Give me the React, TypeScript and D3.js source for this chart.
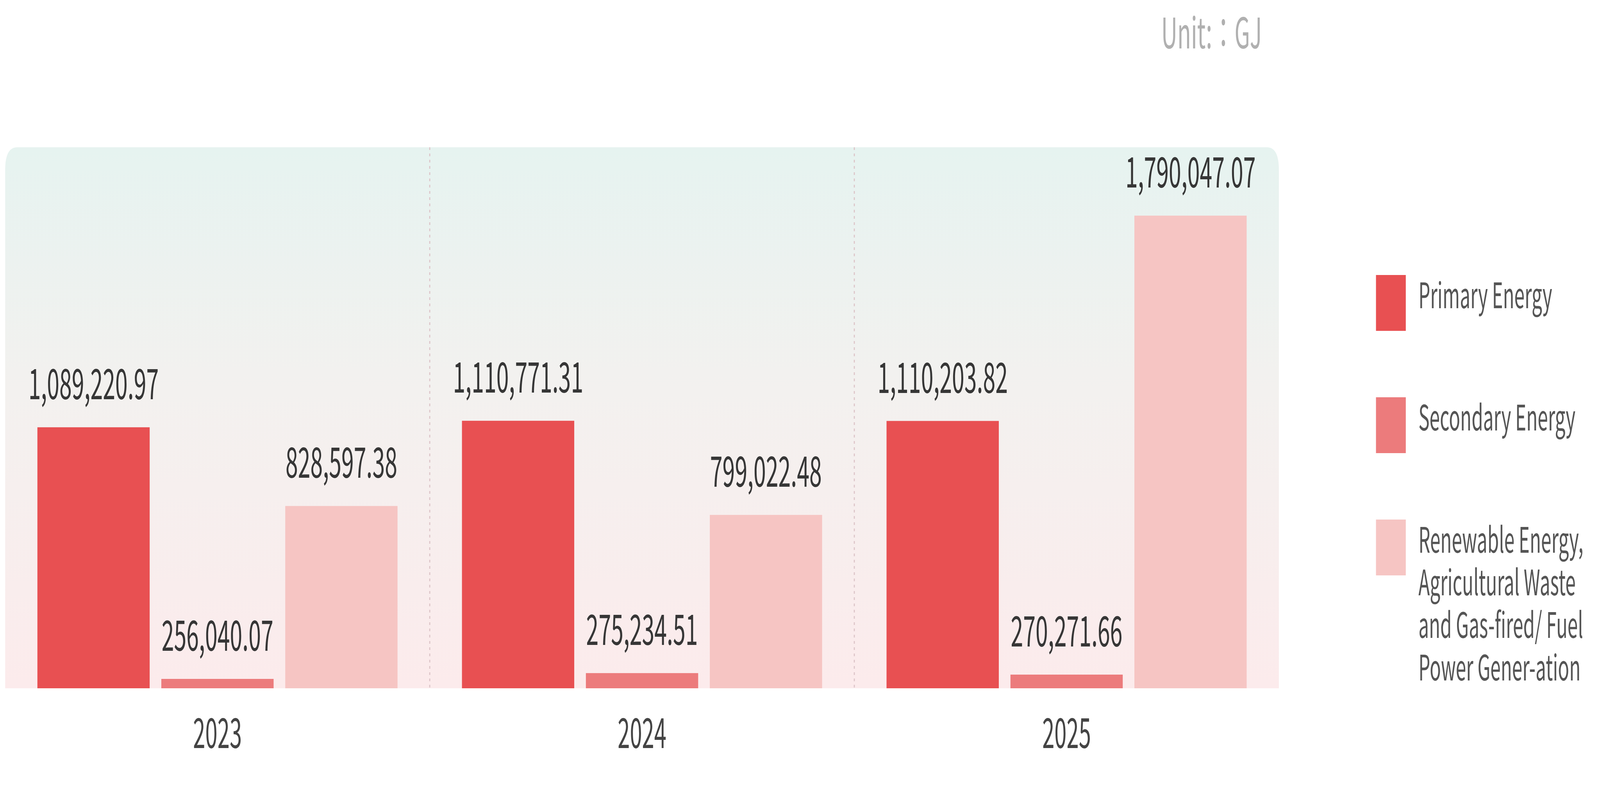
import React, { useEffect, useRef } from 'react'
import * as d3 from 'd3'

// chart values
const years = ['2023', '2024', '2025']
const seriesKeys = ['primary', 'secondary', 'renewable']
const primaryEnergy = [1089220.97, 1110771.31, 1110203.82]
const secondaryEnergy = [256040.07, 275234.51, 270271.66]
const renewableEnergy = [828597.38, 799022.48, 1790047.07]
const legendLabels = [
  ['Primary Energy'],
  ['Secondary Energy'],
  ['Renewable Energy,', 'Agricultural Waste', 'and Gas-fired/ Fuel', 'Power Gener-ation'],
]
const unitLabel = 'Unit:：GJ'
// the value axis in the original does not start at zero
const yFloor = 225000

const seriesColors = ['#e85052', '#ec7b7c', '#f6c5c3']
const FONT = '"Noto Sans CJK KR", "Noto Sans", sans-serif'

const W = 7728
const H = 2048

const App: React.FC = () => {
  const svgRef = useRef<SVGSVGElement>(null)

  useEffect(() => {
    if (!svgRef.current) return
    const svg = d3.select(svgRef.current)
    svg.selectAll('*').remove()

    // drawn in a 7728x2048 frame, stretched to whatever window we get
    svg.attr('viewBox', `0 0 ${W} ${H}`).attr('preserveAspectRatio', 'none')

    const plot = { left: 25, right: 6177, top: 377, bottom: 1762 }
    const values = [primaryEnergy, secondaryEnergy, renewableEnergy]
    const rows = years.map((year, i) => ({
      year,
      items: seriesKeys.map((key, s) => ({ key, value: values[s][i] })),
    }))

    const x0 = d3.scaleBand<string>()
      .domain(years)
      .range([plot.left, plot.right])
      .padding(0)

    const x1 = d3.scaleBand<string>()
      .domain(seriesKeys)
      .range([0, x0.bandwidth()])
      .paddingInner(0.094)
      .paddingOuter(0.26)

    const y = d3.scaleLinear()
      .domain([yFloor, d3.max(renewableEnergy) as number])
      .range([plot.bottom, 552])

    const color = d3.scaleOrdinal<string, string>().domain(seriesKeys).range(seriesColors)

    // background panel gradient
    const defs = svg.append('defs')
    const grad = defs.append('linearGradient')
      .attr('id', 'panelGrad')
      .attr('x1', 0).attr('y1', 0).attr('x2', 0).attr('y2', 1)
    grad.append('stop').attr('offset', '0%').attr('stop-color', '#e6f3f0')
    grad.append('stop').attr('offset', '45%').attr('stop-color', '#f3f1ef')
    grad.append('stop').attr('offset', '100%').attr('stop-color', '#fcebec')

    svg.append('rect').attr('width', W).attr('height', H).attr('fill', '#fff')

    const r = 58
    const { left, right, top, bottom } = plot
    svg.append('path')
      .attr('d', `M${left},${bottom} L${left},${top + r} Q${left},${top} ${left + r},${top} L${right - r},${top} Q${right},${top} ${right},${top + r} L${right},${bottom} Z`)
      .attr('fill', 'url(#panelGrad)')

    // dotted group dividers
    svg.append('g')
      .selectAll('line')
      .data(years.slice(1))
      .join('line')
      .attr('x1', d => x0(d) as number)
      .attr('x2', d => x0(d) as number)
      .attr('y1', top)
      .attr('y2', bottom)
      .attr('stroke', '#dcc3c7')
      .attr('stroke-width', 5)
      .attr('stroke-dasharray', '7 9')

    // bars
    const groups = svg.append('g')
      .selectAll('g')
      .data(rows)
      .join('g')
      .attr('transform', d => `translate(${x0(d.year)},0)`)

    groups.selectAll('rect')
      .data(d => d.items)
      .join('rect')
      .attr('x', d => x1(d.key) as number)
      .attr('y', d => y(d.value))
      .attr('width', x1.bandwidth())
      .attr('height', d => y(yFloor) - y(d.value))
      .attr('fill', d => color(d.key))

    groups.selectAll('text.val')
      .data(d => d.items)
      .join('text')
      .attr('class', 'val')
      .attr('x', d => (x1(d.key) as number) + x1.bandwidth() / 2)
      .attr('y', d => y(d.value) - 72)
      .attr('text-anchor', 'middle')
      .style('font-family', FONT)
      .style('font-size', '108px')
      .style('fill', '#363636')
      .text(d => d3.format(',.2f')(d.value))

    // category axis
    const xAxis = svg.append('g')
      .attr('transform', `translate(0,${bottom})`)
      .call(d3.axisBottom(x0).tickSize(0).tickPadding(153))
    xAxis.select('.domain').remove()
    xAxis.selectAll('text')
      .attr('dy', 0)
      .style('font-family', FONT)
      .style('font-size', '106px')
      .style('fill', '#444')

    // unit
    svg.append('text')
      .attr('x', 6095)
      .attr('y', 124)
      .attr('text-anchor', 'end')
      .style('font-family', FONT)
      .style('font-size', '108px')
      .style('fill', '#b0b0b0')
      .text(unitLabel)

    // legend
    const legend = svg.append('g').attr('transform', 'translate(6646,704)')
    const item = legend.selectAll('g')
      .data(seriesKeys)
      .join('g')
      .attr('transform', (_, i) => `translate(0,${i * 313})`)
    item.append('rect')
      .attr('width', 144)
      .attr('height', 143)
      .attr('fill', d => color(d))
    item.append('text')
      .attr('x', 205)
      .attr('y', 85)
      .style('font-family', FONT)
      .style('font-size', '90px')
      .style('fill', '#555')
      .selectAll('tspan')
      .data((_, i) => legendLabels[i])
      .join('tspan')
      .attr('x', 205)
      .attr('dy', (_, j) => (j === 0 ? 0 : 109))
      .text(d => d)
  }, [])

  return (
    <svg
      ref={svgRef}
      style={{ position: 'fixed', left: 0, top: 0, width: '100vw', height: '100vh', display: 'block' }}
    />
  )
}

export default App
